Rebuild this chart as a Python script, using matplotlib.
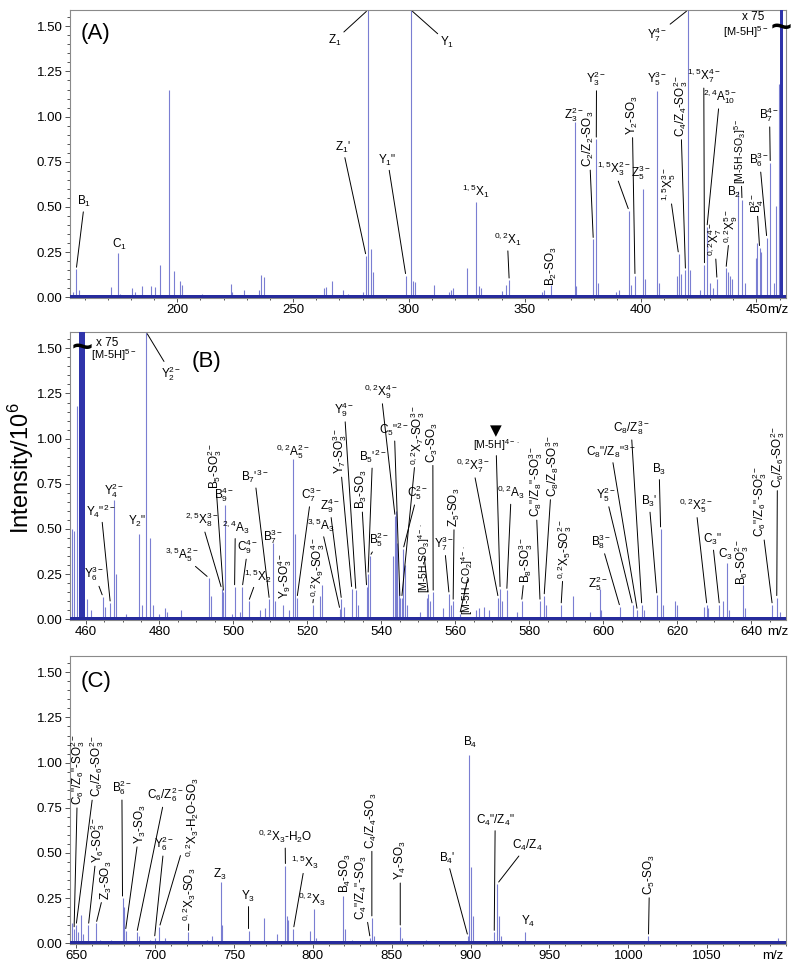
import numpy as np
from matplotlib import pyplot as plt
from matplotlib.ticker import MultipleLocator, FormatStrFormatter

plt.rcParams['font.family'] = ['Liberation Sans', 'DejaVu Sans']
plt.rcParams['mathtext.fontset'] = 'custom'
plt.rcParams['mathtext.rm'] = 'Liberation Sans'
plt.rcParams['mathtext.it'] = 'Liberation Sans:italic'
plt.rcParams['mathtext.bf'] = 'Liberation Sans:bold'
plt.rcParams['mathtext.default'] = 'regular'

# ---- panel A: m/z 154-463 ----
a_mz = [155.0, 156.4, 157.6, 171.5, 174.4, 175.5, 180.6, 181.9, 184.8, 188.8,
        190.2, 192.4, 196.5, 198.5, 201.0, 201.9, 210.5, 223.1, 223.5, 229.0,
        235.2, 236.2, 237.5, 263.2, 264.2, 266.7, 271.4, 273.6, 280.4, 281.5,
        282.3, 283.6, 284.6, 298.7, 300.9, 301.7, 302.7, 311.0, 317.4, 318.3,
        319.2, 325.0, 329.0, 330.2, 331.2, 340.0, 342.1, 343.3, 357.5, 358.3,
        361.5, 371.5, 372.2, 379.6, 380.9, 381.6, 389.5, 390.5, 395.0, 396.0,
        397.6, 401.1, 401.8, 407.1, 408.0, 415.8, 416.4, 417.4, 419.4, 420.5,
        421.2, 425.5, 427.6, 428.7, 429.8, 431.5, 433.0, 436.9, 437.7, 438.7,
        439.6, 442.1, 443.8, 445.2, 449.8, 450.4, 451.4, 452.0, 454.5, 456.0,
        457.5, 458.6, 459.6]
a_int = [0.03, 0.155, 0.04, 0.055, 0.245, 0.02, 0.05, 0.03, 0.06, 0.065,
         0.055, 0.18, 1.15, 0.145, 0.09, 0.07, 0.02, 0.075, 0.03, 0.04,
         0.04, 0.125, 0.11, 0.05, 0.055, 0.09, 0.04, 0.02, 0.03, 0.23,
         2.0, 0.265, 0.14, 0.12, 2.0, 0.09, 0.085, 0.07, 0.03, 0.04,
         0.05, 0.16, 0.53, 0.06, 0.05, 0.035, 0.07, 0.095, 0.03, 0.04,
         0.07, 0.97, 0.06, 0.32, 0.875, 0.08, 0.03, 0.04, 0.48, 0.07,
         0.12, 0.60, 0.10, 1.14, 0.08, 0.12, 0.24, 0.13, 0.15, 2.0,
         0.15, 0.04, 0.18, 0.39, 0.08, 0.05, 0.10, 0.16, 0.14, 0.12,
         0.10, 0.59, 0.54, 0.08, 0.22, 0.30, 0.275, 0.25, 0.33, 0.745,
         0.08, 0.505, 1.18]
a_prec_mz = 460.95      # [M-5H]5- (x75, off scale)
a_prec_int = 2.0

a_labels = [("B$_1$", 156.4), ("C$_1$", 174.4), ("Z$_1$", 282.3), ("Y$_1$", 300.9),
            ("Z$_1$'", 281.5), ('Y$_1$"', 298.7), ("$^{1,5}$X$_1$", 329.0),
            ("$^{0,2}$X$_1$", 343.3), ("B$_2$-SO$_3$", 361.5), ("Z$_3^{2-}$", 371.5),
            ("Y$_3^{2-}$", 380.9), ("C$_2$/Z$_2$-SO$_3$", 379.6), ("Y$_2$-SO$_3$", 397.6),
            ("$^{1,5}$X$_3^{2-}$", 395.0), ("Z$_5^{3-}$", 401.1), ("Y$_5^{3-}$", 407.1),
            ("$^{1,5}$X$_5^{3-}$", 416.4), ("C$_4$/Z$_4$-SO$_3^{2-}$", 419.4),
            ("Y$_7^{4-}$", 420.5), ("$^{1,5}$X$_7^{4-}$", 427.6), ("$^{2,4}$A$_{10}^{5-}$", 428.7),
            ("$^{0,2}$X$_7^{4-}$", 433.0), ("$^{0,2}$X$_9^{5-}$", 436.9), ("B$_2$", 442.1),
            ("[M-5H-SO$_3$]$^{5-}$", 443.8), ("B$_4^{2-}$", 451.4), ("B$_6^{3-}$", 454.5),
            ("B$_7^{4-}$", 456.0)]
# label centre (m/z, intensity), rotation, leader line
a_place = [(160.0, 0.53, 0, 1), (175.1, 0.29, 0, 0), (267.8, 1.42, 0, 1), (316.7, 1.41, 0, 1),
           (271.4, 0.83, 0, 1), (290.8, 0.76, 0, 1), (328.9, 0.585, 0, 0),
           (342.5, 0.32, 0, 1), (361.5, 0.175, 90, 0), (371.3, 1.01, 0, 0),
           (381.0, 1.21, 0, 1), (377.7, 0.875, 90, 1), (396.4, 1.01, 90, 1),
           (388.5, 0.71, 0, 1), (400.0, 0.69, 0, 0), (407.2, 1.21, 0, 0),
           (412.2, 0.625, 90, 1), (417.2, 1.06, 90, 1),
           (407.2, 1.455, 0, 1), (427.3, 1.225, 0, 1), (434.2, 1.11, 0, 1),
           (432.0, 0.32, 90, 1), (438.8, 0.395, 90, 1), (440.2, 0.58, 0, 0),
           (443.1, 0.81, 90, 1), (450.2, 0.52, 90, 1), (451.4, 0.76, 0, 1),
           (455.7, 1.01, 0, 1)]

# ---- panel B: m/z 456-649 ----
b_mz = [456.4, 457.0, 457.6, 460.4, 461.5, 464.7, 465.2, 466.7, 467.8, 468.3,
        471.0, 474.4, 475.2, 476.4, 477.5, 478.3, 480.0, 481.4, 481.9, 485.7,
        493.3, 493.8, 496.8, 497.3, 497.8, 499.5, 500.3, 501.8, 502.4, 504.1,
        507.2, 508.6, 509.7, 510.8, 511.3, 513.3, 515.0, 516.2, 516.7, 517.2,
        521.4, 523.4, 523.9, 528.8, 529.2, 529.9, 532.0, 533.1, 533.7, 536.0,
        536.4, 536.9, 543.2, 543.7, 543.9, 544.3, 544.7, 545.0, 545.5, 545.9,
        546.4, 547.0, 550.4, 552.2, 552.7, 553.1, 554.0, 556.7, 558.3, 558.7,
        559.4, 561.2, 565.6, 566.5, 567.8, 569.2, 571.6, 572.1, 572.7, 573.9,
        576.6, 577.9, 582.9, 584.0, 584.5, 588.6, 591.7, 596.3, 599.0, 599.5,
        604.5, 607.9, 609.2, 610.4, 610.9, 614.5, 615.5, 616.2, 619.4, 619.9,
        627.2, 628.0, 628.4, 631.4, 632.3, 633.4, 634.0, 637.7, 638.3, 645.7,
        646.9, 647.8]
b_int = [0.50, 0.49, 1.18, 0.11, 0.05, 0.125, 0.07, 0.09, 0.66, 0.25,
         0.03, 0.47, 0.08, 2.0, 0.45, 0.08, 0.03, 0.06, 0.04, 0.05,
         0.23, 0.13, 0.17, 0.15, 0.63, 0.03, 0.18, 0.04, 0.18, 0.10,
         0.05, 0.06, 0.11, 0.42, 0.10, 0.08, 0.05, 0.89, 0.47, 0.12,
         0.08, 0.13, 0.19, 0.055, 0.11, 0.07, 0.17, 0.16, 0.08, 0.18,
         0.25, 0.35, 0.35, 0.57, 0.60, 0.42, 0.20, 0.12, 0.12, 0.39,
         0.30, 0.08, 0.04, 0.12, 0.14, 0.10, 0.15, 0.06, 0.14, 0.08,
         0.10, 0.03, 0.05, 0.06, 0.07, 0.05, 0.12, 0.17, 0.10, 0.16,
         0.04, 0.10, 0.10, 0.13, 0.08, 0.08, 0.13, 0.04, 0.17, 0.05,
         0.07, 0.08, 0.05, 0.08, 0.05, 0.135, 0.50, 0.08, 0.10, 0.08,
         0.07, 0.08, 0.06, 0.08, 0.10, 0.31, 0.05, 0.19, 0.06, 0.08,
         0.12, 0.04]
b_prec_mz = 458.95
b_prec_int = 2.0

b_labels = [("Y$_2^{2-}$", 476.4), ("Y$_4^{2-}$", 467.8), ('Y$_4$"$^{2-}$', 466.7),
            ("Y$_6^{3-}$", 464.7), ('Y$_2$"', 474.4), ("$^{3,5}$A$_5^{2-}$", 493.3),
            ("$^{2,5}$X$_8^{3-}$", 496.8), ("B$_5$-SO$_3^{2-}$", 497.3), ("B$_9^{4-}$", 497.8),
            ("$^{2,4}$A$_3$", 500.3), ("C$_9^{4-}$", 502.4), ("$^{1,5}$X$_2$", 504.1),
            ("B$_7$'$^{3-}$", 509.7), ("B$_7^{3-}$", 510.8), ("Y$_9$-SO$_3^{4-}$", 513.3),
            ("$^{0,2}$A$_5^{2-}$", 516.2), ("C$_7^{3-}$", 517.2),
            ("$^{0,2}$X$_9$-SO$_3^{4-}$", 521.4), ("$^{3,5}$A$_3$", 528.8), ("Z$_9^{4-}$", 529.2),
            ("Y$_7$-SO$_3^{3-}$", 532.0), ("Y$_9^{4-}$", 533.1), ("B$_3$-SO$_3$", 536.0),
            ("B$_5$'$^{2-}$", 536.4), ("B$_5^{2-}$", 536.9), ("$^{0,2}$X$_9^{4-}$", 543.7),
            ('C$_5$"$^{2-}$', 545.0), ("$^{0,2}$X$_7$-SO$_3^{3-}$", 545.5), ("C$_5^{2-}$", 545.9),
            ("[M-5H-SO$_3$]$^{4-\\cdot}$", 552.7), ("C$_3$-SO$_3$", 554.0), ("Z$_5$-SO$_3$", 559.4),
            ("Y$_7^{3-}$", 558.3), ("[M-5H-CO$_2$]$^{4-\\cdot}$", 561.2), ("[M-5H]$^{4-\\cdot}$", 572.1),
            ("$^{0,2}$X$_7^{3-}$", 571.6), ("$^{0,2}$A$_3$", 573.9), ("B$_8$-SO$_3^{3-}$", 577.9),
            ('C$_8$"/Z$_8$"-SO$_3^{3-}$', 582.9), ("C$_8$/Z$_8$-SO$_3^{3-}$", 584.0),
            ("$^{0,2}$X$_5$-SO$_3^{2-}$", 588.6), ("Z$_5^{2-}$", 599.0), ("B$_8^{3-}$", 604.5),
            ("Y$_5^{2-}$", 607.9), ('C$_8$"/Z$_8$"$^{3-}$', 609.2), ("C$_8$/Z$_8^{3-}$", 610.4),
            ("B$_3$'", 614.5), ("B$_3$", 615.5), ("$^{0,2}$X$_5^{2-}$", 628.0), ('C$_3$"', 631.4),
            ("C$_3$", 633.4), ("B$_6$-SO$_3^{2-}$", 637.7), ('C$_6$"/Z$_6$"-SO$_3^{2-}$', 645.7),
            ("C$_6$/Z$_6$-SO$_3^{2-}$", 646.9)]
b_place = [(483.2, 1.36, 0, 1), (467.8, 0.71, 0, 0), (464.2, 0.60, 0, 1),
           (462.4, 0.25, 0, 1), (474.1, 0.54, 0, 0), (485.9, 0.36, 0, 1),
           (491.3, 0.55, 0, 1), (494.9, 0.85, 90, 1), (497.6, 0.69, 0, 0),
           (500.5, 0.51, 0, 1), (503.9, 0.40, 0, 1), (506.6, 0.24, 0, 1),
           (505.7, 0.79, 0, 1), (510.6, 0.46, 0, 0), (513.8, 0.24, 90, 0),
           (516.0, 0.93, 0, 0), (521.0, 0.69, 0, 1),
           (522.8, 0.29, 90, 1), (523.7, 0.52, 0, 1), (526.0, 0.63, 0, 1),
           (528.6, 0.93, 90, 1), (530.0, 1.16, 0, 1), (534.5, 0.72, 90, 1),
           (537.6, 0.90, 0, 1), (539.5, 0.44, 0, 1), (539.9, 1.26, 0, 1),
           (543.5, 1.05, 0, 1), (549.8, 1.02, 90, 1), (549.8, 0.70, 0, 1),
           (551.6, 0.34, 90, 1), (553.9, 0.98, 90, 1), (559.7, 0.62, 90, 1),
           (557.0, 0.42, 0, 1), (563.3, 0.22, 90, 1), (571.0, 0.965, 0, 1),
           (564.7, 0.85, 0, 1), (575.1, 0.70, 0, 1), (579.1, 0.33, 90, 1),
           (581.6, 0.76, 90, 1), (586.3, 0.85, 90, 1),
           (589.5, 0.39, 90, 1), (598.5, 0.20, 0, 0), (599.4, 0.43, 0, 1),
           (600.7, 0.69, 0, 1), (602.1, 0.93, 0, 1), (607.5, 1.06, 0, 1),
           (612.4, 0.65, 0, 1), (615.1, 0.83, 0, 1), (625.0, 0.63, 0, 1), (629.5, 0.44, 0, 1),
           (633.1, 0.36, 0, 0), (637.5, 0.32, 90, 0), (642.2, 0.65, 90, 1),
           (647.1, 0.90, 90, 1)]

# ---- panel C: m/z 646-1100 ----
c_mz = [647.2, 648.6, 649.9, 650.8, 652.9, 654.0, 657.7, 662.6, 665.0, 672.0,
        679.3, 680.0, 680.5, 681.2, 688.4, 689.5, 697.0, 699.6, 702.7, 706.0,
        721.1, 733.0, 736.0, 741.7, 742.5, 759.2, 769.3, 777.5, 782.6, 783.5,
        784.3, 787.7, 798.3, 800.4, 802.0, 819.4, 820.3, 825.0, 836.3, 837.4,
        838.5, 855.4, 856.3, 872.0, 898.3, 899.3, 900.2, 901.5, 915.0, 917.0,
        918.0, 919.0, 934.6, 1012.8, 1095.0]
c_int = [0.115, 0.08, 0.10, 0.06, 0.155, 0.05, 0.10, 0.11, 0.02, 0.02,
         0.25, 0.20, 0.15, 0.07, 0.06, 0.04, 0.02, 0.03, 0.09, 0.03,
         0.06, 0.02, 0.04, 0.34, 0.10, 0.07, 0.14, 0.05, 0.43, 0.15,
         0.13, 0.08, 0.07, 0.19, 0.03, 0.26, 0.08, 0.02, 0.03, 0.14,
         0.04, 0.09, 0.03, 0.02, 0.04, 1.04, 0.42, 0.15, 0.06, 0.33,
         0.15, 0.04, 0.06, 0.04, 0.03]

c_labels = [('C$_6$"/Z$_6$"-SO$_3^{2-}$', 648.6), ("C$_6$/Z$_6$-SO$_3^{2-}$", 649.9),
            ("Y$_6$-SO$_3^{2-}$", 657.7), ("Z$_3$-SO$_3$", 662.6), ("B$_6^{2-}$", 679.3),
            ("Y$_3$-SO$_3$", 681.2), ("C$_6$/Z$_6^{2-}$", 688.4), ("Y$_6^{2-}$", 699.6),
            ("$^{0,2}$X$_3$-H$_2$O-SO$_3$", 702.7), ("$^{0,2}$X$_3$-SO$_3$", 721.1),
            ("Z$_3$", 741.7), ("Y$_3$", 759.2), ("$^{0,2}$X$_3$-H$_2$O", 782.6),
            ("$^{1,5}$X$_3$", 787.7), ("$^{0,2}$X$_3$", 800.4), ("B$_4$-SO$_3$", 819.4),
            ('C$_4$"/Z$_4$"-SO$_3$', 836.3), ("C$_4$/Z$_4$-SO$_3$", 837.4), ("Y$_4$-SO$_3$", 855.4),
            ("B$_4$", 899.3), ("B$_4$'", 898.3), ('C$_4$"/Z$_4$"', 915.0), ("C$_4$/Z$_4$", 917.0),
            ("Y$_4$", 934.6), ("C$_5$-SO$_3$", 1012.8)]
c_place = [(651.0, 0.96, 90, 1), (662.8, 0.98, 90, 1), (663.6, 0.57, 90, 1),
           (669.4, 0.35, 90, 1), (678.9, 0.86, 0, 1), (690.5, 0.66, 90, 1),
           (706.3, 0.82, 0, 1), (705.7, 0.55, 0, 1), (723.3, 0.70, 90, 1),
           (721.8, 0.27, 90, 1), (741.2, 0.38, 0, 0), (759.2, 0.26, 0, 1),
           (782.4, 0.59, 0, 1), (795.1, 0.45, 0, 1), (799.4, 0.245, 0, 0),
           (820.5, 0.39, 90, 0), (831.1, 0.31, 90, 1), (837.4, 0.68, 90, 1),
           (855.4, 0.46, 90, 1), (899.7, 1.11, 0, 0), (885.0, 0.47, 0, 1),
           (915.6, 0.68, 0, 1), (935.7, 0.54, 0, 1), (936.7, 0.12, 0, 0),
           (1013.5, 0.38, 90, 1)]

noise_level = 0.014
peak_color = '#7a7ed2'
base_color = '#262b9c'
top = 1.59


def draw_panel(ax, mz, inten, prec, labels, place, xlim, xmajor, xminor):
    mz = np.array(mz)
    inten = np.array(inten)
    ax.vlines(mz, 0, inten, colors=peak_color, lw=0.8, zorder=2)
    if prec is not None:
        ax.bar(prec[0], prec[1], width=prec[2], color='#2f34aa', lw=0, zorder=3)
    ax.axhspan(-0.01, noise_level, color=base_color, lw=0, zorder=3)

    for (text, target), (tx, ty, rot, leader) in zip(labels, place):
        i = np.argmin(np.abs(mz - target))
        y = min(inten[i], top)
        fs = 7.5 if text.startswith('[') else 8.5
        if leader:
            ax.annotate(text, xy=(mz[i], y), xytext=(tx, ty), ha='center', va='center',
                        rotation=rot, fontsize=fs, annotation_clip=False, zorder=4,
                        arrowprops=dict(arrowstyle='-', color='k', lw=0.7,
                                        shrinkA=0, shrinkB=1.5))
        else:
            ax.text(tx, ty, text, ha='center', va='center', rotation=rot,
                    fontsize=fs, zorder=4)

    ax.set_xlim(xlim)
    ax.set_ylim(-0.004, top)
    ax.set_xticks(xmajor)
    ax.xaxis.set_minor_locator(MultipleLocator(xminor))
    ax.set_yticks(np.arange(0, 1.51, 0.25))
    ax.yaxis.set_major_formatter(FormatStrFormatter('%.2f'))
    ax.yaxis.set_minor_locator(MultipleLocator(0.05))
    ax.tick_params(which='both', direction='out', color='#555555', width=0.7,
                   labelsize=9.5)
    ax.tick_params(axis='y', which='major', length=3.5, pad=2)
    ax.tick_params(axis='y', which='minor', length=2)
    ax.tick_params(axis='x', which='major', length=3, pad=1.5)
    ax.tick_params(axis='x', which='minor', length=1.5)
    for s in ax.spines.values():
        s.set_color('#8a8a8a')
        s.set_linewidth(0.8)


fig = plt.figure(figsize=(8, 9.72), dpi=100)
ax_a = fig.add_axes([0.0875, 0.6934, 0.895, 0.2963])
ax_b = fig.add_axes([0.0875, 0.3621, 0.895, 0.2963])
ax_c = fig.add_axes([0.0875, 0.0288, 0.895, 0.2963])

draw_panel(ax_a, a_mz, a_int, (a_prec_mz, a_prec_int, 1.3), a_labels, a_place,
           (153.7, 462.8), [200, 250, 300, 350, 400, 450], 10)
draw_panel(ax_b, b_mz, b_int, (b_prec_mz, b_prec_int, 1.7), b_labels, b_place,
           (455.8, 649.4), np.arange(460, 641, 20), 5)
draw_panel(ax_c, c_mz, c_int, None, c_labels, c_place,
           (646, 1100), np.arange(650, 1051, 50), 10)

# precursor scale notes
ax_a.text(448.5, 1.55, "x 75", ha='center', va='center', fontsize=8.5)
ax_a.text(445.5, 1.466, "[M-5H]$^{5-}$", ha='center', va='center', fontsize=8)
ax_a.text(460.6, 1.49, "~", ha='center', va='center', fontsize=26, fontweight='bold', zorder=5)
ax_b.text(465.9, 1.53, "x 75", ha='center', va='center', fontsize=8.5)
ax_b.text(467.6, 1.46, "[M-5H]$^{5-}$", ha='center', va='center', fontsize=8)
ax_b.text(459.1, 1.50, "~", ha='center', va='center', fontsize=26, fontweight='bold', zorder=5)
ax_b.text(571.0, 1.045, "\u25bc", ha='center', va='center', fontsize=11, family='DejaVu Sans')

for ax, tag, pos, mzx in [(ax_a, "(A)", (0.035, 0.92), 0.988),
                          (ax_b, "(B)", (0.191, 0.897), 0.989),
                          (ax_c, "(C)", (0.037, 0.911), 0.982)]:
    ax.text(pos[0], pos[1], tag, transform=ax.transAxes, ha='center', va='center', fontsize=16)
    ax.annotate("m/z", xy=(mzx, 0), xycoords='axes fraction', xytext=(0, -4.5),
                textcoords='offset points', ha='center', va='top', fontsize=9.5)

fig.text(0.026, 1 - 468 / 972, "Intensity/10$^6$", rotation=90, ha='center', va='center',
         fontsize=17)

fig.savefig('out.png', dpi=100)
